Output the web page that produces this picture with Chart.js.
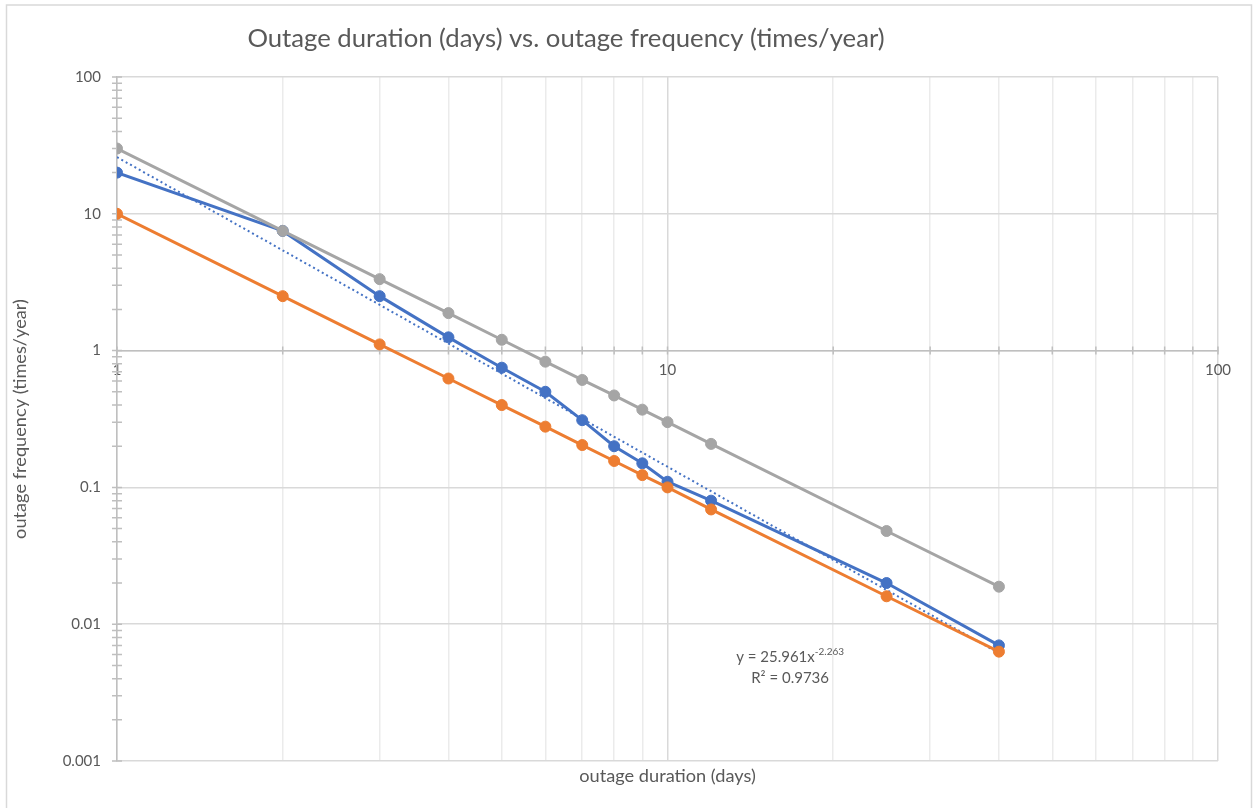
<!DOCTYPE html>
<html>
<head>
<meta charset="utf-8">
<title>Outage duration vs. outage frequency</title>
<script src="https://cdn.jsdelivr.net/npm/chart.js@4.4.1/dist/chart.umd.min.js"></script>
<style>
  html, body { margin: 0; padding: 0; background: #fff; }
  #wrap { position: relative; width: 1255px; height: 808px; }
</style>
</head>
<body>
<div id="wrap"><canvas id="chart"></canvas></div>
<script>
// --- DATA ---
const durationDays = [1, 2, 3, 4, 5, 6, 7, 8, 9, 10, 12, 25, 40];
const freqBlue   = [20, 7.5, 2.5, 1.25, 0.75, 0.5, 0.31, 0.2, 0.15, 0.11, 0.08, 0.02, 0.007];
const freqOrange = [10, 2.5, 1.11, 0.625, 0.4, 0.278, 0.204, 0.156, 0.123, 0.1, 0.069, 0.016, 0.0063];
const freqGray   = [30, 7.5, 3.33, 1.88, 1.2, 0.83, 0.61, 0.47, 0.37, 0.3, 0.208, 0.048, 0.0188];

// power trendline of the blue series, end points
const trendX = [1, 40];
const trendY = [25.96, 0.00614];

const xTicks = [1, 2, 3, 4, 5, 6, 7, 8, 9, 10, 20, 30, 40, 50, 60, 70, 80, 90, 100];
const xLabels = [1, 10, 100];
const yTicks = [
  0.001, 0.002, 0.003, 0.004, 0.005, 0.006, 0.007, 0.008, 0.009,
  0.01, 0.02, 0.03, 0.04, 0.05, 0.06, 0.07, 0.08, 0.09,
  0.1, 0.2, 0.3, 0.4, 0.5, 0.6, 0.7, 0.8, 0.9,
  1, 2, 3, 4, 5, 6, 7, 8, 9,
  10, 20, 30, 40, 50, 60, 70, 80, 90,
  100
];
const yLabels = [0.001, 0.01, 0.1, 1, 10, 100];

const chartTitle = 'Outage duration (days) vs. outage frequency (times/year)';
const xTitle = 'outage duration (days)';
const yTitle = 'outage frequency (times/year)';
const trendText = ['y = 25.961x', '-2.263', 'R\u00B2 = 0.9736'];
const trendTextAt = { x: 16.7, y: 0.0057 };

const FONT = 'Lato, "Noto Sans", sans-serif';
const TEXT = '#595959';

const points = (xs, ys) => xs.map((x, i) => ({ x, y: ys[i] }));

const decorations = {
    id: 'decorations',
    beforeDraw(chart) {
        const ctx = chart.ctx;
        ctx.save();
        ctx.fillStyle = '#fff';
        ctx.fillRect(0, 0, chart.width, chart.height);
        ctx.strokeStyle = '#d9d9d9';
        ctx.lineWidth = 1.5;
        ctx.strokeRect(6.5, 5, 1245, 840);
        ctx.restore();
    },
    beforeDatasetsDraw(chart) {
        // Excel style crossing tick marks on both axes
        const { ctx, scales: { x, y } } = chart;
        const axisY = y.getPixelForValue(1);
        const axisX = x.getPixelForValue(1);
        ctx.save();
        ctx.strokeStyle = '#bfbfbf';
        ctx.lineWidth = 1.5;
        ctx.beginPath();
        xTicks.forEach(v => {
            const px = x.getPixelForValue(v);
            ctx.moveTo(px, axisY - 4);
            ctx.lineTo(px, axisY + 4);
        });
        yTicks.forEach(v => {
            const py = y.getPixelForValue(v);
            ctx.moveTo(axisX - 5, py);
            ctx.lineTo(axisX + 5, py);
        });
        ctx.stroke();
        ctx.restore();
    },
    afterDraw(chart) {
        const { ctx, chartArea, scales: { x, y } } = chart;
        ctx.save();
        ctx.fillStyle = TEXT;
        ctx.textBaseline = 'middle';
        ctx.textAlign = 'center';

        ctx.font = '25.7px ' + FONT;
        ctx.fillText(chartTitle, 566, 39);

        ctx.font = '18.2px ' + FONT;
        ctx.fillText(xTitle, (chartArea.left + chartArea.right) / 2, 776);

        ctx.save();
        ctx.translate(20, (chartArea.top + chartArea.bottom) / 2);
        ctx.rotate(-Math.PI / 2);
        ctx.fillText(yTitle, 0, 0);
        ctx.restore();

        // trendline equation
        const cx = x.getPixelForValue(trendTextAt.x);
        const cy = y.getPixelForValue(trendTextAt.y);
        ctx.font = '15px ' + FONT;
        const w1 = ctx.measureText(trendText[0]).width;
        ctx.font = '10px ' + FONT;
        const w2 = ctx.measureText(trendText[1]).width;
        let left = cx - (w1 + w2) / 2;
        ctx.textAlign = 'left';
        ctx.font = '15px ' + FONT;
        ctx.fillText(trendText[0], left, cy);
        ctx.font = '10px ' + FONT;
        ctx.fillText(trendText[1], left + w1, cy - 6);
        ctx.textAlign = 'center';
        ctx.font = '15px ' + FONT;
        ctx.fillText(trendText[2], cx, cy + 21);
        ctx.restore();
    }
};

const series = (data, color, order) => ({
    data,
    borderColor: color,
    backgroundColor: color,
    borderWidth: 3,
    pointRadius: 5.5,
    pointHoverRadius: 5.5,
    pointBorderWidth: 1,
    tension: 0,
    order
});

new Chart(document.getElementById('chart'), {
    type: 'line',
    data: {
        datasets: [
            series(points(durationDays, freqGray), '#a5a5a5', 0),
            series(points(durationDays, freqOrange), '#ed7d31', 1),
            {
                data: points(trendX, trendY),
                borderColor: '#4472c4',
                borderWidth: 2,
                borderDash: [2, 3],
                pointRadius: 0,
                order: 2
            },
            series(points(durationDays, freqBlue), '#4472c4', 3)
        ]
    },
    options: {
        responsive: true,
        maintainAspectRatio: false,
        animation: false,
        layout: { padding: { left: 8, right: 37, top: 77, bottom: 47 } },
        plugins: {
            legend: { display: false },
            tooltip: { enabled: false },
            title: { display: false }
        },
        scales: {
            x: {
                type: 'logarithmic',
                min: 1,
                max: 100,
                position: { y: 1 },
                afterBuildTicks: scale => { scale.ticks = xTicks.map(value => ({ value })); },
                afterFit: scale => { scale.height = 0; },
                grid: {
                    drawTicks: false,
                    color: c => xLabels.includes(c.tick.value) ? '#d9d9d9' : '#ebebeb',
                    lineWidth: 1.5
                },
                border: { color: '#bfbfbf', width: 1.5 },
                ticks: {
                    autoSkip: false,
                    maxRotation: 0,
                    padding: 11,
                    color: TEXT,
                    font: { family: FONT, size: 15 },
                    callback: v => xLabels.includes(v) ? String(v) : ''
                }
            },
            y: {
                type: 'logarithmic',
                min: 0.001,
                max: 100,
                afterBuildTicks: scale => { scale.ticks = yTicks.map(value => ({ value })); },
                afterFit: scale => { scale.width = 109; },
                grid: {
                    drawTicks: false,
                    color: c => yLabels.includes(c.tick.value) ? '#d9d9d9' : 'rgba(0,0,0,0)',
                    lineWidth: 1.5
                },
                border: { color: '#bfbfbf', width: 1.5 },
                ticks: {
                    autoSkip: false,
                    padding: 16,
                    color: TEXT,
                    font: { family: FONT, size: 15 },
                    callback: v => yLabels.includes(v) ? String(v) : ''
                }
            }
        }
    },
    plugins: [decorations]
});
</script>
</body>
</html>
